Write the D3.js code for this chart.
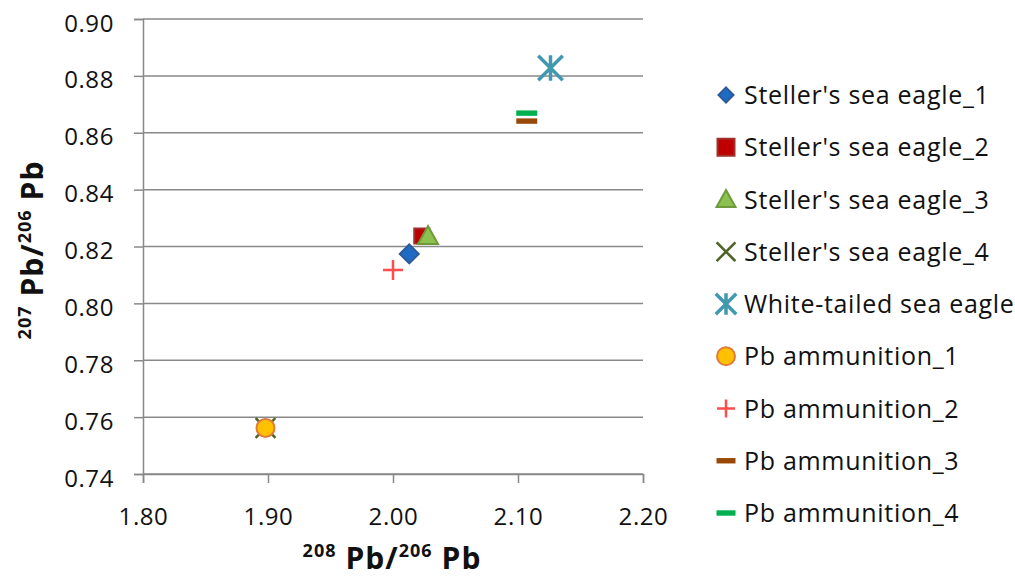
<!DOCTYPE html>
<html>
<head>
<meta charset="utf-8">
<script src="https://cdn.jsdelivr.net/npm/d3@7"></script>
<style>
  html, body { margin: 0; padding: 0; background: #fff; }
  svg { display: block; font-family: "Open Sans", "Liberation Sans", sans-serif; }
</style>
</head>
<body>
<svg id="chart" width="1015" height="579"></svg>
<script>
// Series names, in legend order
const seriesNames = [
  "Steller's sea eagle_1",
  "Steller's sea eagle_2",
  "Steller's sea eagle_3",
  "Steller's sea eagle_4",
  "White-tailed sea eagle",
  "Pb ammunition_1",
  "Pb ammunition_2",
  "Pb ammunition_3",
  "Pb ammunition_4"
];
// 208Pb/206Pb ratio for each series
const ratio208 = [2.013, 2.023, 2.028, 1.898, 2.126, 1.898, 2.000, 2.107, 2.107];
// 207Pb/206Pb ratio for each series
const ratio207 = [0.8174, 0.8237, 0.8237, 0.7562, 0.8828, 0.7562, 0.8117, 0.8641, 0.8669];

const xTicks = [1.80, 1.90, 2.00, 2.10, 2.20];
const yTicks = [0.74, 0.76, 0.78, 0.80, 0.82, 0.84, 0.86, 0.88, 0.90];

// Marker style per series
const markerStyle = [
  { shape: "diamond",  fill: "#1f6bc4", stroke: "#2a5a9a" },
  { shape: "square",   fill: "#c00000", stroke: "#a0302c" },
  { shape: "triangle", fill: "#8cc152", stroke: "#6f9a3a" },
  { shape: "x",        fill: "none",    stroke: "#4f6228" },
  { shape: "star",     fill: "none",    stroke: "#4198af" },
  { shape: "circle",   fill: "#ffc000", stroke: "#e07b39" },
  { shape: "plus",     fill: "none",    stroke: "#ff4d4d" },
  { shape: "dash",     fill: "#984807", stroke: "none" },
  { shape: "dash",     fill: "#00b050", stroke: "none" }
];

const svg = d3.select("#chart");
const plot = { left: 143, right: 643, top: 19, bottom: 474 };

const x = d3.scaleLinear().domain([1.80, 2.20]).range([plot.left, plot.right]);
const y = d3.scaleLinear().domain([0.74, 0.90]).range([plot.bottom, plot.top]);

const axisColor = "#898989";
const tickFont = 24;

// Horizontal gridlines
svg.append("g")
  .selectAll("line")
  .data(yTicks)
  .join("line")
  .attr("x1", plot.left).attr("x2", plot.right)
  .attr("y1", d => y(d)).attr("y2", d => y(d))
  .attr("stroke", axisColor).attr("stroke-width", 1.5);

// Y axis
const yAxis = svg.append("g")
  .attr("transform", `translate(${plot.left},0)`)
  .call(d3.axisLeft(y).tickValues(yTicks).tickFormat(d3.format(".2f")).tickSize(9).tickPadding(20));
// X axis
const xAxis = svg.append("g")
  .attr("transform", `translate(0,${plot.bottom})`)
  .call(d3.axisBottom(x).tickValues(xTicks).tickFormat(d3.format(".2f")).tickSize(9).tickPadding(25));

[yAxis, xAxis].forEach(g => {
  g.select(".domain").attr("stroke", axisColor).attr("stroke-width", 1.5);
  g.selectAll(".tick line").attr("stroke", axisColor).attr("stroke-width", 1.5);
  g.selectAll(".tick text")
    .attr("fill", "#111")
    .style("font-size", tickFont + "px")
    .style("letter-spacing", "0.6px")
    .style("font-family", "'Open Sans', 'Liberation Sans', sans-serif");
});
yAxis.selectAll(".tick text").attr("dy", "0.5em");
xAxis.selectAll(".tick text").attr("dy", "0.71em");

// Marker path generators
function markerPath(shape, s) {
  const h = s / 2;
  switch (shape) {
    case "diamond":  return `M0,${-h}L${h},0L0,${h}L${-h},0Z`;
    case "square":   return `M${-h},${-h}H${h}V${h}H${-h}Z`;
    case "triangle": return `M0,${-h}L${h},${h * 0.8}L${-h},${h * 0.8}Z`;
    case "x":        return `M${-h},${-h}L${h},${h}M${h},${-h}L${-h},${h}`;
    case "star":     return `M${-h},${-h}L${h},${h}M${h},${-h}L${-h},${h}M0,${-h}V${h}`;
    case "plus":     return `M${-h},0H${h}M0,${-h}V${h}`;
    case "dash":     return `M${-h},-2.7H${h}V2.7H${-h}Z`;
    case "circle":   return d3.arc()({ innerRadius: 0, outerRadius: h, startAngle: 0, endAngle: 2 * Math.PI });
  }
}
const plotSize = { diamond: 19, square: 15, triangle: 20, x: 18, star: 22, plus: 20, dash: 21, circle: 18 };
const legendSize = { diamond: 15, square: 17, triangle: 19, x: 17, star: 18, plus: 18, dash: 19, circle: 18 };

function drawMarker(g, st, size) {
  const lines = ["x", "star", "plus"].includes(st.shape);
  g.append("path")
    .attr("d", markerPath(st.shape, size))
    .attr("fill", st.fill)
    .attr("stroke", st.stroke)
    .attr("stroke-width", lines ? (st.shape === "star" ? 3.5 : 2.5) : 2)
    .attr("stroke-linecap", st.shape === "plus" ? "butt" : "square");
}

// Draw order: the X sits beneath the ammunition circle
const order = [3, 0, 1, 2, 4, 5, 6, 7, 8];
const pts = svg.append("g");
order.forEach(i => {
  const g = pts.append("g").attr("transform", `translate(${x(ratio208[i])},${y(ratio207[i])})`);
  drawMarker(g, markerStyle[i], plotSize[markerStyle[i].shape]);
});

// Legend
const legend = svg.append("g");
const legendY = d3.scalePoint().domain(d3.range(seriesNames.length)).range([95, 513]);
seriesNames.forEach((name, i) => {
  const row = legend.append("g").attr("transform", `translate(0,${legendY(i)})`);
  const m = row.append("g").attr("transform", "translate(726,0)");
  drawMarker(m, markerStyle[i], legendSize[markerStyle[i].shape]);
  row.append("text")
    .attr("x", 744).attr("y", 0).attr("dy", "0.36em")
    .attr("fill", "#111")
    .style("font-size", "25px")
    .style("letter-spacing", "0.7px")
    .text(name);
});

// Axis titles with superscript mass numbers
function isoTitle(g, a, b) {
  const t = g.append("text").attr("text-anchor", "middle").attr("font-weight", "bold")
    .attr("fill", "#111").style("letter-spacing", "1px");
  t.append("tspan").attr("font-size", 18).attr("baseline-shift", "12").text(a);
  t.append("tspan").attr("font-size", 30).attr("dx", 9).text("Pb/");
  t.append("tspan").attr("font-size", 18).attr("baseline-shift", "12").text(b);
  t.append("tspan").attr("font-size", 30).attr("dx", 9).text("Pb");
  return t;
}
isoTitle(svg.append("g").attr("transform", "translate(392,569)"), "208", "206");
isoTitle(svg.append("g").attr("transform", "translate(43,250) rotate(-90)"), "207", "206");
</script>
</body>
</html>
